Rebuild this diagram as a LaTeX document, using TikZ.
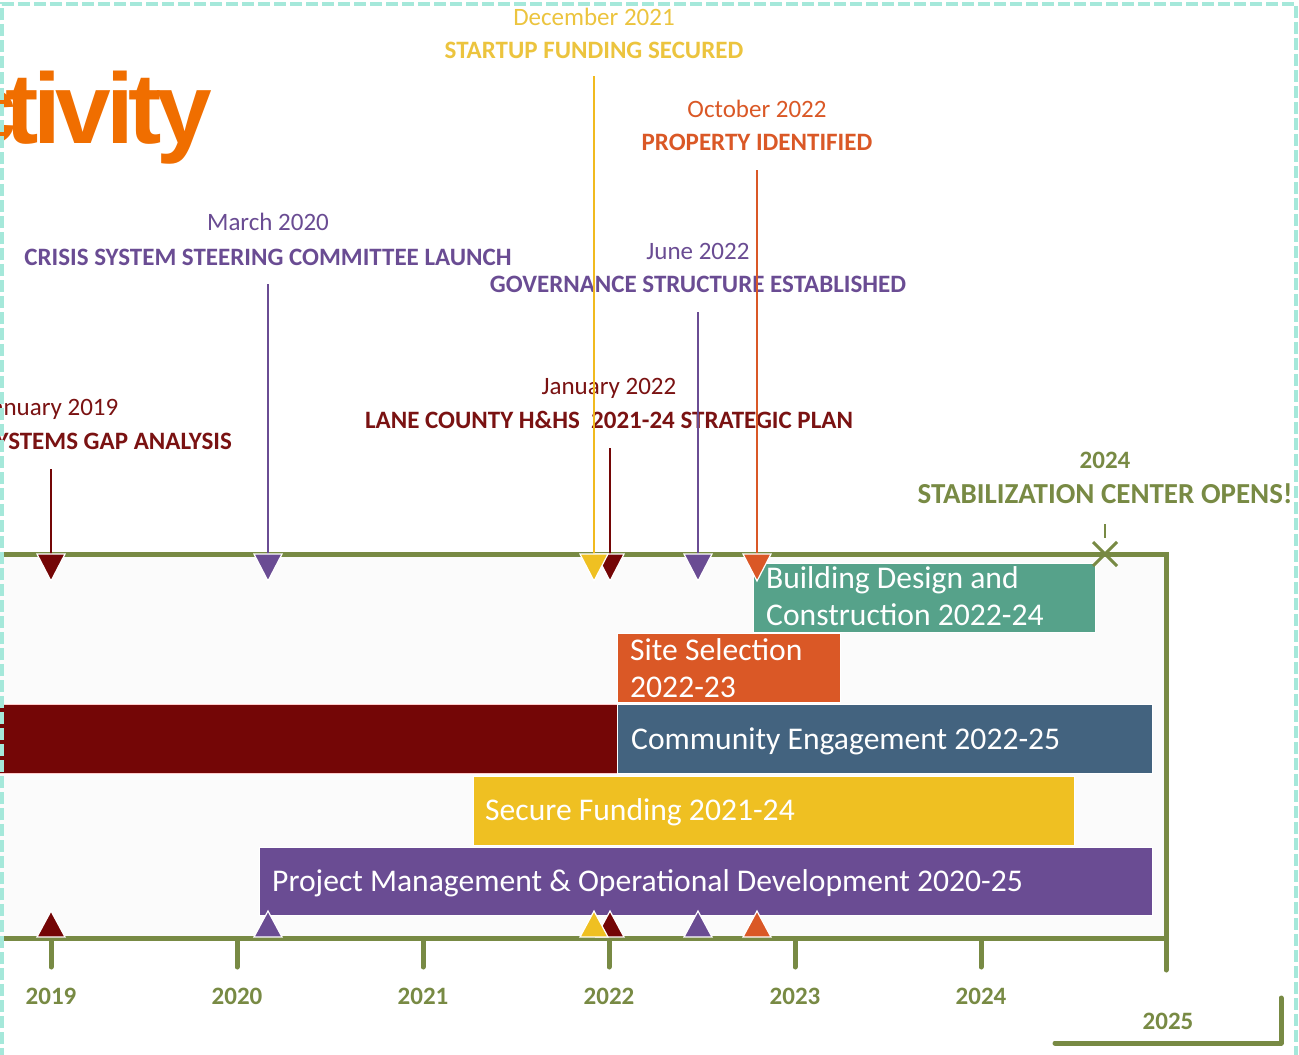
\documentclass[tikz,border=0pt]{standalone}
\usepackage{fontspec}
\usetikzlibrary{calc}
\setmainfont{Carlito}
\newfontfamily\titlefont{Liberation Sans}
\definecolor{cOlive}{RGB}{120,138,68}
\definecolor{cDarkRed}{RGB}{116,6,6}
\definecolor{cRedTxt}{RGB}{122,18,18}
\definecolor{cPurple}{RGB}{106,76,147}
\definecolor{cYellow}{RGB}{239,192,34}
\definecolor{cYellowTxt}{RGB}{236,196,62}
\definecolor{cOrange}{RGB}{218,88,38}
\definecolor{cTeal}{RGB}{86,162,138}
\definecolor{cSteel}{RGB}{67,99,127}
\definecolor{cAqua}{RGB}{165,232,218}
\definecolor{cTitle}{RGB}{240,110,0}
\newcommand{\tk}{\kern-5.5pt}
\newcommand{\dtri}[2]{\fill[#2, draw=white, line width=1.2] (#1-14,554) -- (#1+14,554) -- (#1,581) -- cycle;}
\newcommand{\utri}[2]{\fill[#2, draw=white, line width=1.2] (#1-14,937) -- (#1+14,937) -- (#1,911) -- cycle;}
\tikzset{
  lbl/.style={font=\fontsize{25}{30}\selectfont, inner sep=0, anchor=base},
  lblb/.style={font=\fontsize{25}{30}\selectfont\bfseries, inner sep=0, anchor=base},
  bartxt/.style={font=\fontsize{31.6}{37}\selectfont, text=white, inner sep=0, anchor=base west},
  bar/.style={draw=white, line width=1},
  axis/.style={cOlive, line width=5},
  tick/.style={cOlive, line width=5, line cap=round},
  yearlbl/.style={lblb, text=cOlive},
  marker/.style={line width=1.8},
}
\begin{document}
\begin{tikzpicture}[x=1pt,y=-1pt]
\useasboundingbox (0,0) rectangle (1299,1055);
\fill[white] (0,0) rectangle (1299,1055);
\fill[black!1.5] (0,556) rectangle (1166,936);

% bars
\fill[cTeal, bar] (753,563) rectangle (1095,632);
\fill[cOrange, bar] (617,633) rectangle (840,702);
\fill[cDarkRed, draw=red!20, line width=1] (-2,704) rectangle (617,773);
\fill[cSteel, bar] (617,704) rectangle (1152,773);
\fill[cYellow, bar] (473,776) rectangle (1074,845);
\fill[cPurple, bar] (259,847) rectangle (1152,915);

\node[bartxt] (bd1) at (766,588) {Building Design and};
\node[bartxt] (bd2) at (766,625) {Construction 2022-24};
\node[bartxt] (ss1) at (630,660) {Site Selection};
\node[bartxt] (ss2) at (630,697) {2022-23};
\node[bartxt] (ce) at (631,749) {Community Engagement 2022-25};
\node[bartxt] (sf) at (485,820) {Secure Funding 2021-24};
\node[bartxt] (pm) at (272,891) {Project Management \& Operational Development 2020-25};

% axes
\draw[axis, line join=miter] (0,554) -- (1166,554) -- (1166,940);
\draw[tick] (1166,938) -- (1166,970);
\draw[axis] (0,938) -- (1168,938);
\foreach \xx in {51,237,423,609,795,981}{
  \draw[tick] (\xx,940) -- (\xx,967);
}
\node[yearlbl] (y19) at (51,1004) {2019};
\node[yearlbl] (y20) at (237,1004) {2020};
\node[yearlbl] (y21) at (423,1004) {2021};
\node[yearlbl] (y22) at (609,1004) {2022};
\node[yearlbl] (y23) at (795,1004) {2023};
\node[yearlbl] (y24) at (981,1004) {2024};
\node[yearlbl] (y25) at (1168,1029) {2025};
\coordinate (brA) at (1055,1043);
\coordinate (brB) at (1281,1043);
\coordinate (brC) at (1281,998);
\draw[tick, line join=round] (brA) -- (brB) -- (brC);

% title
\node[font=\titlefont\bfseries\fontsize{100}{105}\selectfont, text=cTitle, anchor=base east, inner sep=0] (title) at (212,143) {c\kern-11pt t\tk i\tk v\tk i\tk t\tk y};

% labels
\node[lbl, text=cYellowTxt] (d21a) at (594,25) {December 2021};
\node[lblb, text=cYellowTxt] (d21b) at (594,58) {STARTUP FUNDING SECURED};
\node[lbl, text=cOrange] (o22a) at (757,117) {October 2022};
\node[lblb, text=cOrange] (o22b) at (757,150) {PROPERTY IDENTIFIED};
\node[lbl, text=cPurple] (m20a) at (268,230) {March 2020};
\node[lblb, text=cPurple] (m20b) at (268,265) {CRISIS SYSTEM STEERING COMMITTEE LAUNCH};
\node[lbl, text=cPurple] (j22a) at (698,259) {June 2022};
\node[lblb, text=cPurple] (j22b) at (698,292) {GOVERNANCE STRUCTURE ESTABLISHED};
\node[lbl, text=cRedTxt] (ja22a) at (609,394) {January 2022};
\node[lblb, text=cRedTxt] (ja22b) at (609,428) {LANE COUNTY H\&HS\ \ 2021-24 STRATEGIC PLAN};
\node[lbl, text=cRedTxt] (ja19a) at (51,415) {January 2019};
\node[lblb, text=cRedTxt, anchor=base east] (ja19b) at (232,449) {SYSTEMS GAP ANALYSIS};
\node[lblb, text=cOlive] (s24a) at (1105,468) {2024};
\node[lblb, text=cOlive, font=\fontsize{29}{34}\selectfont\bfseries] (s24b) at (1105,503) {STABILIZATION CENTER OPENS!};

% marker connectors
\coordinate (k19) at (51,469);  \coordinate (e19) at (51,556);
\coordinate (k20) at (268,284); \coordinate (e20) at (268,556);
\coordinate (k21) at (594,76);  \coordinate (e21) at (594,556);
\coordinate (k22) at (610,448); \coordinate (e22) at (610,556);
\coordinate (k22j) at (698,312); \coordinate (e22j) at (698,556);
\coordinate (k22o) at (757,170); \coordinate (e22o) at (757,556);
\draw[marker, cDarkRed] (k19) -- (e19);
\draw[marker, cPurple] (k20) -- (e20);
\draw[marker, cYellow!90!orange] (k21) -- (e21);
\draw[marker, cDarkRed] (k22) -- (e22);
\draw[marker, cPurple] (k22j) -- (e22j);
\draw[marker, cOrange] (k22o) -- (e22o);

% triangles
\dtri{51}{cDarkRed}
\dtri{268}{cPurple}
\dtri{610}{cDarkRed}
\dtri{594}{cYellow}
\dtri{698}{cPurple}
\dtri{757}{cOrange}
\utri{51}{cDarkRed}
\utri{268}{cPurple}
\utri{610}{cDarkRed}
\utri{594}{cYellow}
\utri{698}{cPurple}
\utri{757}{cOrange}

% stabilization mark
\coordinate (xm) at (1105,554);
\coordinate (xt) at (1105,524);
\draw[cOlive, line width=1.5] (xt) -- ++(0,14);
\draw[cOlive, line width=3] ($(xm)+(-12,-12)$) -- ($(xm)+(12,12)$);
\draw[cOlive, line width=3] ($(xm)+(-12,12)$) -- ($(xm)+(12,-12)$);

% dashed frame
\draw[cAqua, line width=3.5, dash pattern=on 12 off 4] (2,1060) -- (2,4) -- (1296,4) -- (1296,1060);
\end{tikzpicture}
\end{document}
